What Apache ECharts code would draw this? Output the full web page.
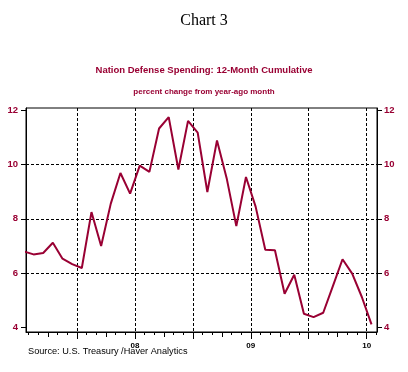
<!DOCTYPE html>
<html>
<head>
<meta charset="utf-8">
<script src="https://cdn.jsdelivr.net/npm/echarts@6/dist/echarts.min.js"></script>
<style>
html,body{margin:0;padding:0;background:#fff;}
#chart{width:408px;height:372px;}
</style>
</head>
<body>
<div id="chart"></div>
<script>
// Months (data values are plotted at mid-month)
var months = ['2007-01','2007-02','2007-03','2007-04','2007-05','2007-06','2007-07','2007-08','2007-09','2007-10','2007-11','2007-12',
              '2008-01','2008-02','2008-03','2008-04','2008-05','2008-06','2008-07','2008-08','2008-09','2008-10','2008-11','2008-12',
              '2009-01','2009-02','2009-03','2009-04','2009-05','2009-06','2009-07','2009-08','2009-09','2009-10','2009-11','2009-12',
              '2010-01'];
var values = [6.80, 6.69, 6.74, 7.12, 6.53, 6.33, 6.19, 8.25, 7.00, 8.56, 9.69, 8.93,
              9.96, 9.73, 11.33, 11.75, 9.82, 11.61, 11.18, 8.99, 10.89, 9.50, 7.73, 9.54,
              8.45, 6.86, 6.84, 5.24, 5.94, 4.50, 4.38, 4.54, 5.52, 6.51, 5.98, 5.12,
              4.11];
// tick labels
var yTickValues = [4, 6, 8, 10, 12];
var yGridValues = [6, 8, 10];
var xLabelMonths = ['2008-01', '2009-01', '2010-01'];
var xLabelTexts = ['08', '09', '10'];
var xGridMonths = ['2007-07', '2008-01', '2008-07', '2009-01', '2009-07', '2010-01'];
var xQuarterMonths = ['2007-04', '2007-10', '2008-04', '2008-10', '2009-04', '2009-10'];
var xAxisStart = '2007-02';
var xAxisEnd = '2010-02';

function monthStart(s) { // months since start of Jan 2008
  var p = s.split('-');
  return (parseInt(p[0], 10) - 2008) * 12 + (parseInt(p[1], 10) - 1);
}
var seriesData = months.map(function (m, i) { return [monthStart(m) + 0.5, values[i]]; });
var allMonthTicks = [];
for (var t = monthStart(xAxisStart); t <= monthStart(xAxisEnd); t++) allMonthTicks.push(t);
var xMin = monthStart(xAxisStart) - 0.28;
var xMax = monthStart(xAxisEnd) + 0.07;
var yMin = 3.83, yMax = 12.085;
var labelVals = xLabelMonths.map(monthStart);

var red = '#990033';
var fontFam = '"Liberation Sans", Arial, sans-serif';

var chart = echarts.init(document.getElementById('chart'), null, {renderer: 'canvas'});
var baseX = {
  type: 'value', min: xMin, max: xMax, position: 'bottom',
  axisLine: {show: false, onZero: false},
  axisTick: {show: false}, axisLabel: {show: false}, splitLine: {show: false}
};
chart.setOption({
  animation: false,
  backgroundColor: '#fff',
  title: [
    {text: 'Chart 3', left: 'center', top: 8, textStyle: {fontFamily: '"Liberation Serif", "Times New Roman", serif', fontWeight: 'normal', fontSize: 16, color: '#000'}},
    {text: 'Nation Defense Spending: 12-Month Cumulative', left: 'center', top: 60, textStyle: {fontFamily: fontFam, fontWeight: 'bold', fontSize: 9.5, color: red}},
    {text: 'percent change from year-ago month', left: 'center', top: 83, textStyle: {fontFamily: fontFam, fontWeight: 'bold', fontSize: 8, color: red}}
  ],
  graphic: [
    {type: 'text', left: 28, top: 347, style: {text: 'Source: U.S. Treasury /Haver Analytics', font: '9.2px ' + fontFam, fill: '#000'}}
  ],
  grid: {left: 26, right: 31, top: 108, bottom: 40, show: true, borderColor: '#000', borderWidth: 1, backgroundColor: 'transparent'},
  xAxis: [
    Object.assign({}, baseX, {
      axisLine: {show: true, onZero: false, lineStyle: {color: '#000', width: 1}},
      axisTick: {show: true, length: 3, customValues: allMonthTicks, lineStyle: {color: '#000'}}
    }),
    Object.assign({}, baseX, {
      axisTick: {show: true, length: 5, customValues: xQuarterMonths.map(monthStart), lineStyle: {color: '#000'}}
    }),
    Object.assign({}, baseX, {
      axisTick: {show: true, length: 7, customValues: xGridMonths.map(monthStart), lineStyle: {color: '#000'}},
      splitLine: {show: true, lineStyle: {color: '#000', width: 1, type: [3, 2]}},
      axisLabel: {show: true, customValues: labelVals, margin: 10, fontFamily: fontFam, fontWeight: 'bold', fontSize: 8, color: '#000',
        formatter: function (v) { var i = labelVals.indexOf(v); return i >= 0 ? xLabelTexts[i] : ''; }}
    })
  ],
  yAxis: [
    {type: 'value', min: yMin, max: yMax, position: 'left',
     axisLine: {show: true, onZero: false, lineStyle: {color: '#000'}},
     axisTick: {show: true, length: 5, customValues: yTickValues, lineStyle: {color: '#000'}},
     axisLabel: {show: true, customValues: yTickValues, margin: 8, fontFamily: fontFam, fontWeight: 'bold', fontSize: 9.5, color: red},
     splitLine: {show: false}},
    {type: 'value', min: yMin, max: yMax, position: 'left',
     axisLine: {show: false, onZero: false},
     axisTick: {show: false, customValues: yGridValues},
     axisLabel: {show: false},
     splitLine: {show: true, lineStyle: {color: '#000', width: 1, type: [3, 2]}}},
    {type: 'value', min: yMin, max: yMax, position: 'right',
     axisLine: {show: true, onZero: false, lineStyle: {color: '#000'}},
     axisTick: {show: true, length: 5, customValues: yTickValues, lineStyle: {color: '#000'}},
     axisLabel: {show: true, customValues: yTickValues, margin: 7, fontFamily: fontFam, fontWeight: 'bold', fontSize: 9.5, color: red},
     splitLine: {show: false}}
  ],
  series: [{
    type: 'line', xAxisIndex: 0, yAxisIndex: 0, data: seriesData,
    showSymbol: false, symbol: 'none', clip: true,
    lineStyle: {color: red, width: 2}, z: 5
  }]
});
</script>
</body>
</html>
